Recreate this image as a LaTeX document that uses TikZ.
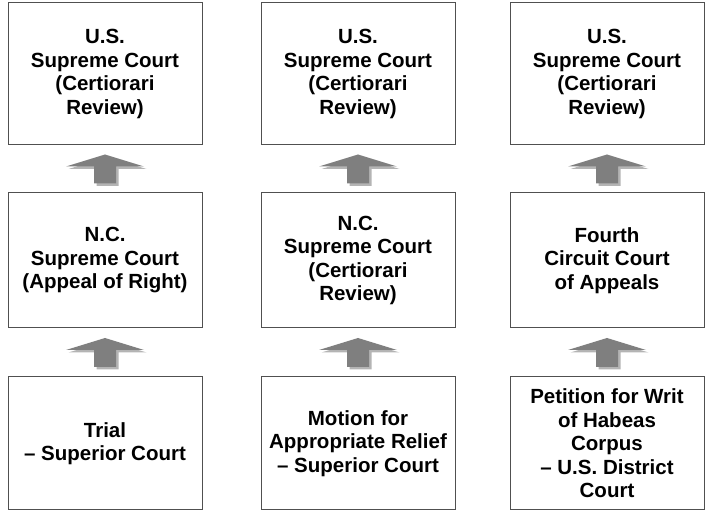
\documentclass[tikz,border=0pt]{standalone}
\usepackage{fontspec}
\setmainfont{Liberation Sans}
\usetikzlibrary{calc}

\definecolor{arrowgray}{HTML}{7F7F7F}
\definecolor{shadowgray}{HTML}{B4B4B4}
\definecolor{framegray}{HTML}{505050}

\tikzset{
  court/.style={draw=framegray, line width=1pt, fill=white, minimum width=194pt,
    align=center, inner sep=2pt, font=\fontsize{20.5}{23.5}\selectfont\bfseries},
  toprow/.style={court, minimum height=142pt},
  midrow/.style={court, minimum height=135pt},
  lowrow/.style={court, minimum height=133pt}
}

% thick upward block arrow between two boxes
\newcommand{\courtarrow}[2]{
  \coordinate (mid) at ($(#1.north)!0.5!(#2.south)$);
  \fill[shadowgray, shift={($(mid)+(2.5,-2.5)$)}]
    (0,14.5) -- (39,2.5) -- (11,2.5) -- (11,-14.5) -- (-11,-14.5) -- (-11,2.5) -- (-39,2.5) -- cycle;
  \fill[arrowgray, shift={(mid)}]
    (0,14.5) -- (39,2.5) -- (11,2.5) -- (11,-14.5) -- (-11,-14.5) -- (-11,2.5) -- (-39,2.5) -- cycle;
}

\begin{document}
\begin{tikzpicture}[x=1pt, y=1pt]

  \useasboundingbox (0,0) rectangle (705,511);

  % top row
  \node[toprow] (ustop1) at (105,437) {U.S.\\Supreme Court\\(Certiorari\\Review)};
  \node[toprow] (ustop2) at (358,437) {U.S.\\Supreme Court\\(Certiorari\\Review)};
  \node[toprow] (ustop3) at (607,437) {U.S.\\Supreme Court\\(Certiorari\\Review)};

  % middle row
  \node[midrow] (ncappeal) at (105,250.5) {N.C.\\Supreme Court\\(Appeal of Right)};
  \node[midrow] (nccert) at (358,250.5) {N.C.\\Supreme Court\\(Certiorari\\Review)};
  \node[midrow] (fourth) at (607,250.5) {Fourth\\Circuit Court\\of Appeals};

  % bottom row
  \node[lowrow] (trial) at (105,67.5) {Trial\\\textendash{} Superior Court};
  \node[lowrow] (motion) at (358,67.5) {Motion for\\Appropriate Relief\\\textendash{} Superior Court};
  \node[lowrow] (habeas) at (607,67.5) {Petition for Writ\\of Habeas\\Corpus\\\textendash{} U.S. District\\Court};

  \foreach \lower/\upper in {trial/ncappeal, motion/nccert, habeas/fourth,
                             ncappeal/ustop1, nccert/ustop2, fourth/ustop3}
    \courtarrow{\lower}{\upper};

\end{tikzpicture}
\end{document}
